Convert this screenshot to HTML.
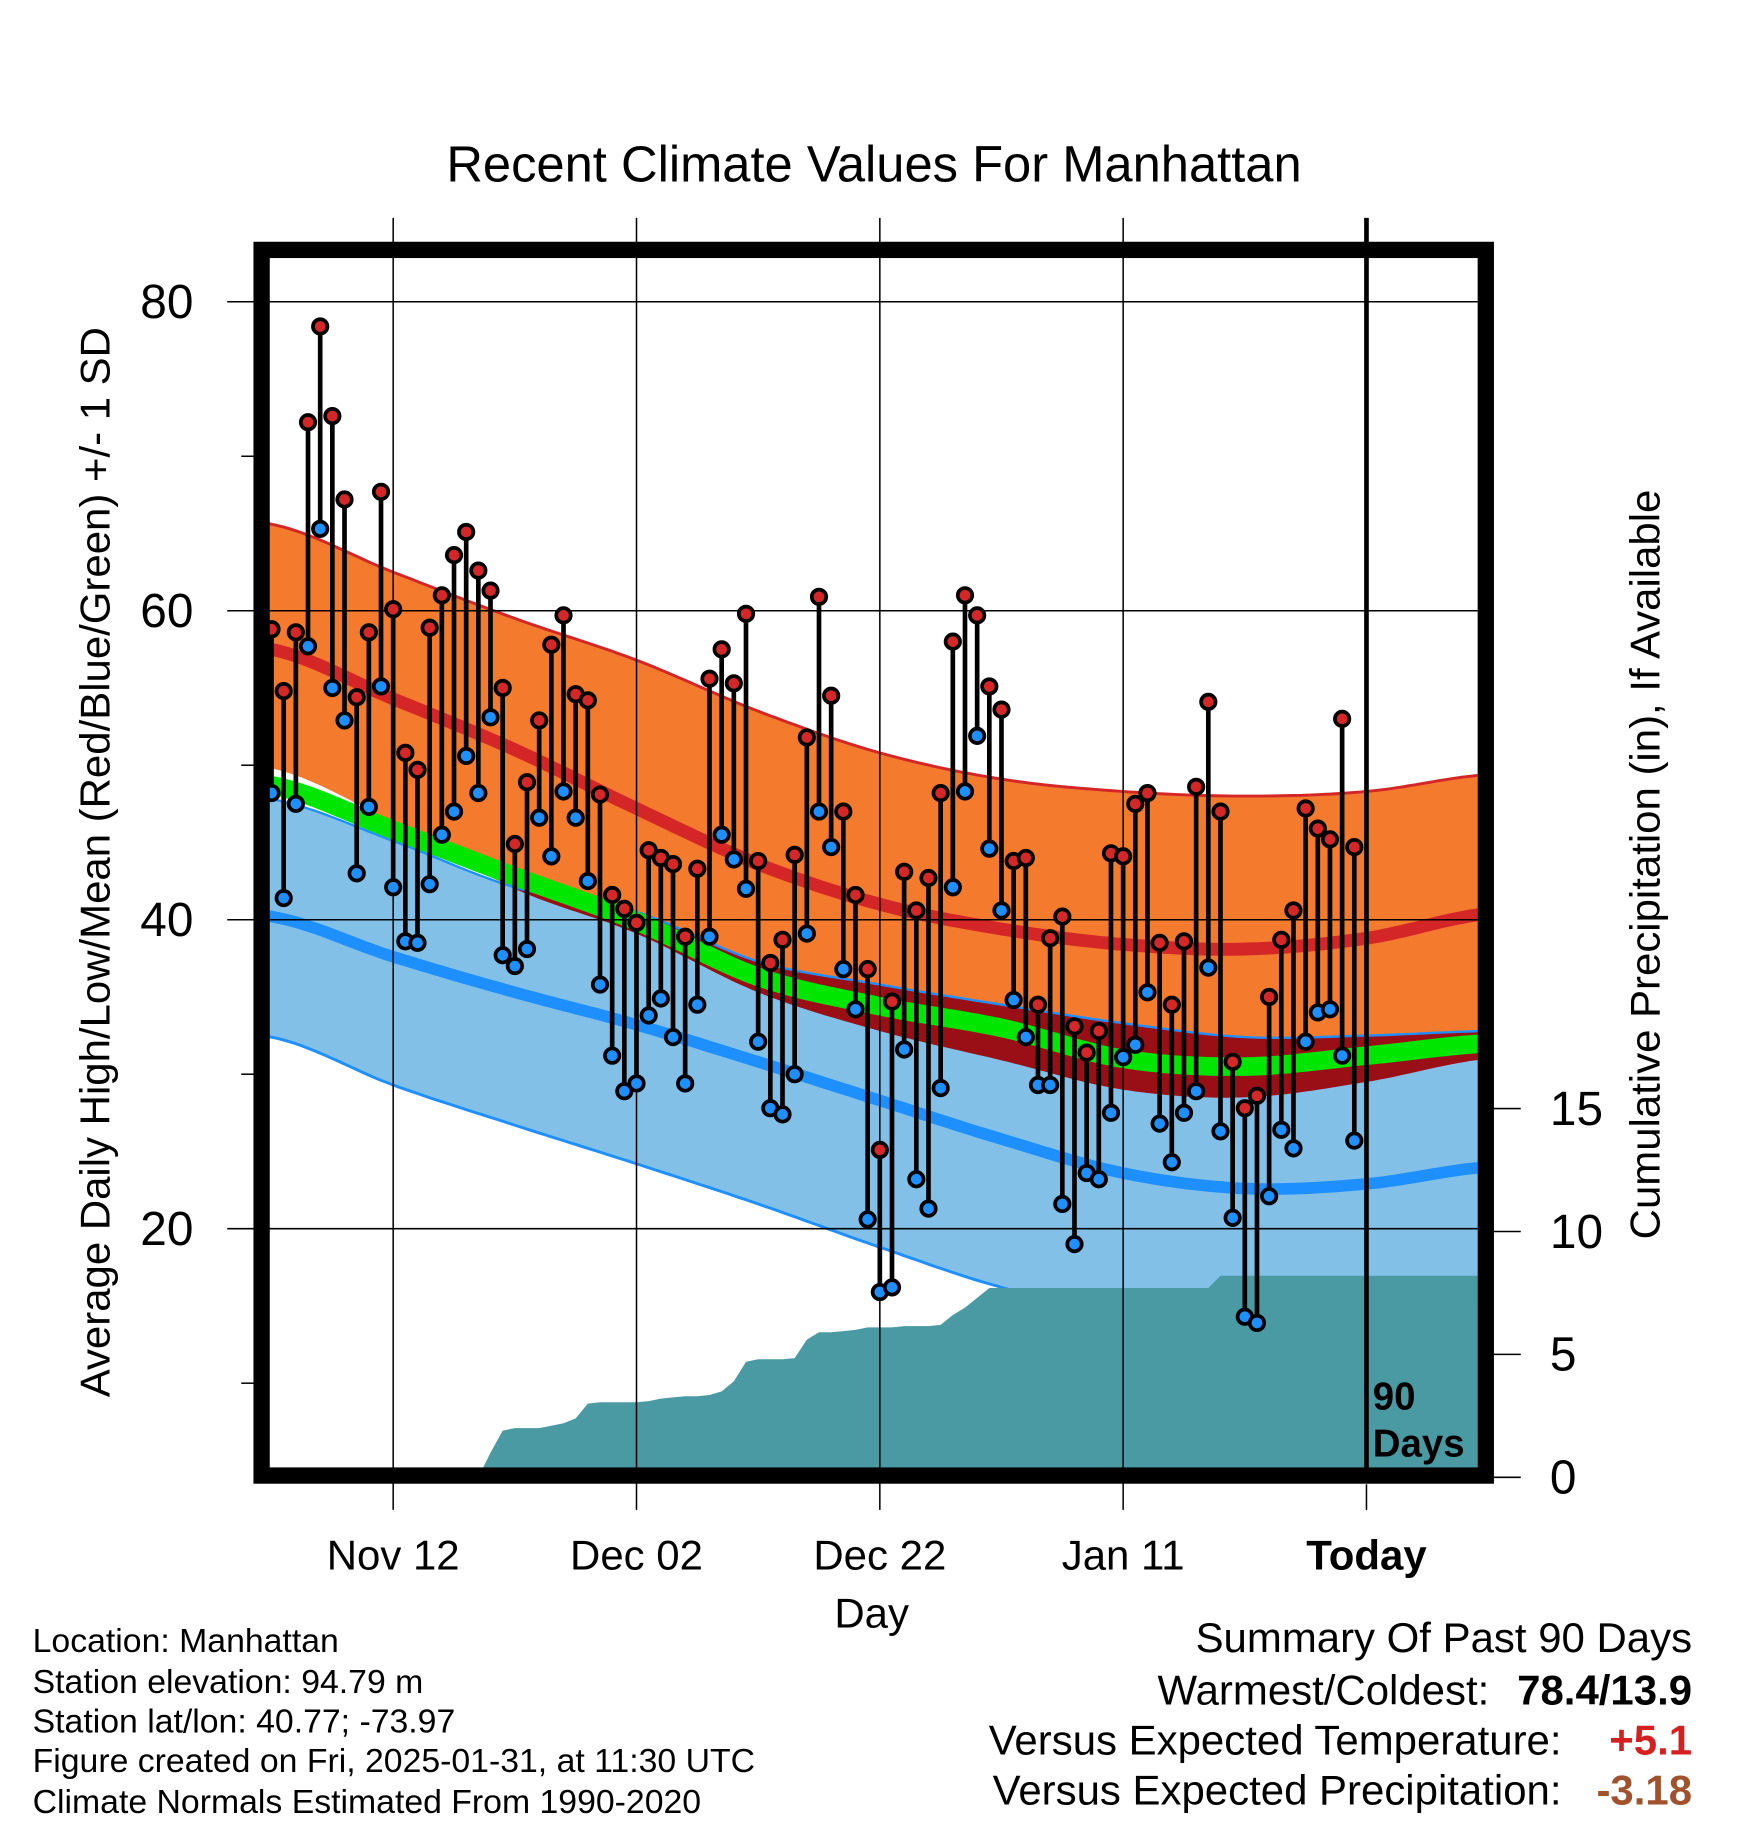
<!DOCTYPE html>
<html><head><meta charset="utf-8"><title>Recent Climate Values For Manhattan</title>
<style>
html,body{margin:0;padding:0;background:#fff;}
svg{display:block;font-family:"Liberation Sans",sans-serif;}
</style></head>
<body>
<svg id="chart" xmlns="http://www.w3.org/2000/svg" width="1748" height="1828" viewBox="0 0 1500 1569" preserveAspectRatio="none">
<defs><clipPath id="plotclip"><rect x="231" y="221" width="1037" height="1039"/></clipPath></defs>
<text x="750" y="156" text-anchor="middle" font-size="43.5">Recent Climate Values For Manhattan</text>
<g id="bands" clip-path="url(#plotclip)"></g>
<g id="grid"></g>
<g id="marks" clip-path="url(#plotclip)"></g>
<rect x="224.5" y="214.5" width="1050.5" height="1052" fill="none" stroke="#000" stroke-width="14"/>
<g id="axes"></g>
<text transform="translate(94,740) rotate(-90)" text-anchor="middle" font-size="36">Average Daily High/Low/Mean (Red/Blue/Green) +/- 1 SD</text>
<text transform="translate(1424,742) rotate(-90)" text-anchor="middle" font-size="36">Cumulative Precipitation (in), If Available</text>
<text x="748" y="1397" text-anchor="middle" font-size="36">Day</text>
<text x="1178" y="1210" font-size="33" font-weight="bold">90</text>
<text x="1178" y="1250" font-size="33" font-weight="bold">Days</text>
<g font-size="29">
<text x="28" y="1418">Location: Manhattan</text>
<text x="28" y="1453">Station elevation: 94.79 m</text>
<text x="28" y="1487">Station lat/lon: 40.77; -73.97</text>
<text x="28" y="1521">Figure created on Fri, 2025-01-31, at 11:30 UTC</text>
<text x="28" y="1556">Climate Normals Estimated From 1990-2020</text>
</g>
<g font-size="36">
<text x="1452" y="1418" text-anchor="end">Summary Of Past 90 Days</text>
<text x="1278" y="1463" text-anchor="end">Warmest/Coldest:</text>
<text x="1452" y="1463" text-anchor="end" font-weight="bold">78.4/13.9</text>
<text x="1340" y="1506" text-anchor="end">Versus Expected Temperature:</text>
<text x="1452" y="1506" text-anchor="end" font-weight="bold" fill="#d62020">+5.1</text>
<text x="1340" y="1549" text-anchor="end">Versus Expected Precipitation:</text>
<text x="1452" y="1549" text-anchor="end" font-weight="bold" fill="#a0522d">-3.18</text>
</g>
</svg>
<script>
// ---- data ----
const highs = [58.8,54.8,58.6,72.2,78.4,72.6,67.2,54.4,58.6,67.7,
60.1,50.8,49.7,58.9,61.0,63.6,65.1,62.6,61.3,55.0,
44.9,48.9,52.9,57.8,59.7,54.6,54.2,48.1,41.6,40.7,
39.8,44.5,44.0,43.6,38.9,43.3,55.6,57.5,55.3,59.8,
43.8,37.2,38.7,44.2,51.8,60.9,54.5,47.0,41.6,36.8,
25.1,34.7,43.1,40.6,42.7,48.2,58.0,61.0,59.7,55.1,
53.6,43.8,44.0,34.5,38.8,40.2,33.1,31.4,32.8,44.3,
44.1,47.5,48.2,38.5,34.5,38.6,48.6,54.1,47.0,30.8,
27.8,28.6,35.0,38.7,40.6,47.2,45.9,45.2,53.0,44.7];
const lows = [48.2,41.4,47.5,57.7,65.3,55.0,52.9,43.0,47.3,55.1,
42.1,38.6,38.5,42.3,45.5,47.0,50.6,48.2,53.1,37.7,
37.0,38.1,46.6,44.1,48.3,46.6,42.5,35.8,31.2,28.9,
29.4,33.8,34.9,32.4,29.4,34.5,38.9,45.5,43.9,42.0,
32.1,27.8,27.4,30.0,39.1,47.0,44.7,36.8,34.2,20.6,
15.9,16.2,31.6,23.2,21.3,29.1,42.1,48.3,51.9,44.6,
40.6,34.8,32.4,29.3,29.3,21.6,19.0,23.6,23.2,27.5,
31.1,31.9,35.3,26.8,24.3,27.5,28.9,36.9,26.3,20.7,
14.3,13.9,22.1,26.4,25.2,32.1,34.0,34.2,31.2,25.7];
const cumPrecip = [0,0,0,0,0,0,0,0,0,0,
0,0,0,0,0,0,0,0,1.0,1.9,
2.0,2.0,2.0,2.1,2.2,2.4,3.0,3.05,3.05,3.05,
3.05,3.1,3.2,3.25,3.3,3.3,3.35,3.5,3.9,4.7,
4.8,4.8,4.8,4.85,5.6,5.9,5.9,5.95,6.0,6.1,
6.1,6.1,6.15,6.15,6.15,6.2,6.6,6.9,7.3,7.7,
7.7,7.7,7.7,7.7,7.7,7.7,7.7,7.7,7.7,7.7,
7.7,7.7,7.7,7.7,7.7,7.7,7.7,7.7,8.2,8.2,
8.2,8.2,8.2,8.2,8.2,8.2,8.2,8.2,8.2,8.2];
const normDays   = [0,10,20,30,40,50,60,70,80,90,100];
const normUpperHigh = [65.6,62.5,59.5,56.8,53.5,50.8,49.1,48.3,48.0,48.3,49.4];
const normHigh      = [57.5,54.3,51.0,47.2,43.6,41.0,39.4,38.4,38.1,38.8,40.4];
const normLowerHigh = [49.8,46.3,42.0,39.1,35.3,32.8,30.9,29.0,28.5,29.5,31.0];
const normMean      = [48.7,45.8,42.8,39.9,36.3,34.4,33.0,31.0,30.5,31.2,32.0];
const normUpperLow  = [47.8,45.1,42.1,40.5,37.3,35.8,34.5,33.3,32.4,32.5,32.8];
const normLow       = [40.2,37.6,35.3,33.2,30.8,28.3,25.8,23.6,22.6,22.9,24.0];
const normLowerLow  = [32.4,29.3,26.7,24.2,21.6,18.8,16.2,14.5,14.0,14.5,15.6];
const yTicks = [20,40,60,80];
const yMinor = [10,30,50,70];
const pTicks = [0,5,10,15];
const xTickDays = [10,30,50,70,90];
const xTickLabels = ["Nov 12","Dec 02","Dec 22","Jan 11","Today"];

// ---- scales ----
const NS="http://www.w3.org/2000/svg";
function X(d){return 233 + d*10.44;}
function Y(v){return 259 + (80-v)*13.26;}
function P(v){return 1268 - v*21.1;}
function el(tag,attrs,parent){const e=document.createElementNS(NS,tag);for(const k in attrs)e.setAttribute(k,attrs[k]);parent.appendChild(e);return e;}
function interp(arr,d){
  let i=0; while(i<normDays.length-2 && d>normDays[i+1]) i++;
  const t=(d-normDays[i])/(normDays[i+1]-normDays[i]);
  const p0=arr[Math.max(i-1,0)],p1=arr[i],p2=arr[i+1],p3=arr[Math.min(i+2,arr.length-1)];
  const t2=t*t,t3=t2*t;
  return 0.5*((2*p1)+(-p0+p2)*t+(2*p0-5*p1+4*p2-p3)*t2+(-p0+3*p1-3*p2+p3)*t3);
}
const samples=[]; for(let d=-0.5; d<=100.01; d+=0.5) samples.push(d);
function linePts(arr){return samples.map(d=>X(d).toFixed(1)+","+Y(interp(arr,d)).toFixed(1));}
function bandPath(a,b){const top=linePts(a),bot=linePts(b).reverse();return "M"+top.join("L")+"L"+bot.join("L")+"Z";}

const bands=document.getElementById('bands');
let e;
e=el('path',{d:bandPath(normUpperHigh,normLowerHigh),fill:'#f47a2e'},bands);


e=el('path',{d:bandPath(normUpperLow,normLowerLow),fill:'#82c0e8'},bands);


(function(){
  const top=[],bot=[];
  samples.forEach(d=>{const yu=Y(interp(normUpperLow,d)),yl=Y(interp(normLowerHigh,d));top.push(X(d).toFixed(1)+","+yu.toFixed(1));bot.push(X(d).toFixed(1)+","+Math.max(yu,yl).toFixed(1));});
  e=el('path',{d:"M"+top.join("L")+"L"+bot.reverse().join("L")+"Z",fill:'#9a0f15'},bands);
  
  
})();
e=el('polyline',{points:linePts(normUpperHigh).join(' '),fill:'none',stroke:'#d42626','stroke-width':2.5},bands);


e=el('polyline',{points:linePts(normUpperLow).join(' '),fill:'none',stroke:'#1e8fff','stroke-width':2},bands);


e=el('polyline',{points:linePts(normLowerLow).join(' '),fill:'none',stroke:'#1e8fff','stroke-width':2.5},bands);


e=el('polyline',{points:linePts(normHigh).join(' '),fill:'none',stroke:'#d42626','stroke-width':11},bands);


e=el('polyline',{points:linePts(normLow).join(' '),fill:'none',stroke:'#1e8fff','stroke-width':10},bands);


e=el('polyline',{points:linePts(normMean).join(' '),fill:'none',stroke:'#00e600','stroke-width':16},bands);


(function(){
  let d="M"+X(0)+","+P(0);
  cumPrecip.forEach((v,i)=>{d+="L"+X(i).toFixed(1)+","+P(v).toFixed(1);});
  const last=cumPrecip[cumPrecip.length-1];
  d+="L1280,"+P(last).toFixed(1)+"L1280,"+P(0)+"Z";
  e=el('path',{d:d,fill:'#4a9aa4'},bands);
  
  
})();

const grid=document.getElementById('grid');
const axes=document.getElementById('axes');
yTicks.forEach(v=>{
  e=el('line',{x1:195,x2:1268,y1:Y(v),y2:Y(v),stroke:'#000','stroke-width':1.3},grid);
  
  
  e=el('text',{x:166,y:Y(v)+14,'text-anchor':'end','font-size':41},axes);
  e.textContent=v;
  
  
});
yMinor.forEach(v=>{
  e=el('line',{x1:207,x2:218,y1:Y(v),y2:Y(v),stroke:'#000','stroke-width':1.3},axes);
  
  
});
pTicks.forEach(v=>{
  e=el('line',{x1:1282,x2:1305,y1:P(v),y2:P(v),stroke:'#000','stroke-width':1.3},axes);
  
  
  e=el('text',{x:1330,y:P(v)+14,'font-size':41},axes);
  e.textContent=v;
  
  
});
xTickDays.forEach((d,i)=>{
  const today=(xTickLabels[i]==="Today");
  e=el('line',{x1:X(d),x2:X(d),y1:187,y2:today?1260:1296,stroke:'#000','stroke-width':today?4:1.3},grid);
  
  
  if(today){e=el('line',{x1:X(d),x2:X(d),y1:1274,y2:1296,stroke:'#000','stroke-width':1.3},axes);
  
  }
  e=el('text',{x:X(d),y:1347,'text-anchor':'middle','font-size':36},axes);
  if(today) e.setAttribute('font-weight','bold');
  e.textContent=xTickLabels[i];
  
  
});

const marks=document.getElementById('marks');
highs.forEach((h,i)=>{
  const x=X(i);
  e=el('line',{x1:x,x2:x,y1:Y(h),y2:Y(lows[i]),stroke:'#000','stroke-width':4},marks);
  
  
});
highs.forEach((h,i)=>{
  const x=X(i);
  e=el('circle',{cx:x,cy:Y(h),r:6.2,fill:'#d62728',stroke:'#000','stroke-width':3.2},marks);
  
  
  e=el('circle',{cx:x,cy:Y(lows[i]),r:6.2,fill:'#1e8fff',stroke:'#000','stroke-width':3.2},marks);
  
  
});
</script>
</body></html>
